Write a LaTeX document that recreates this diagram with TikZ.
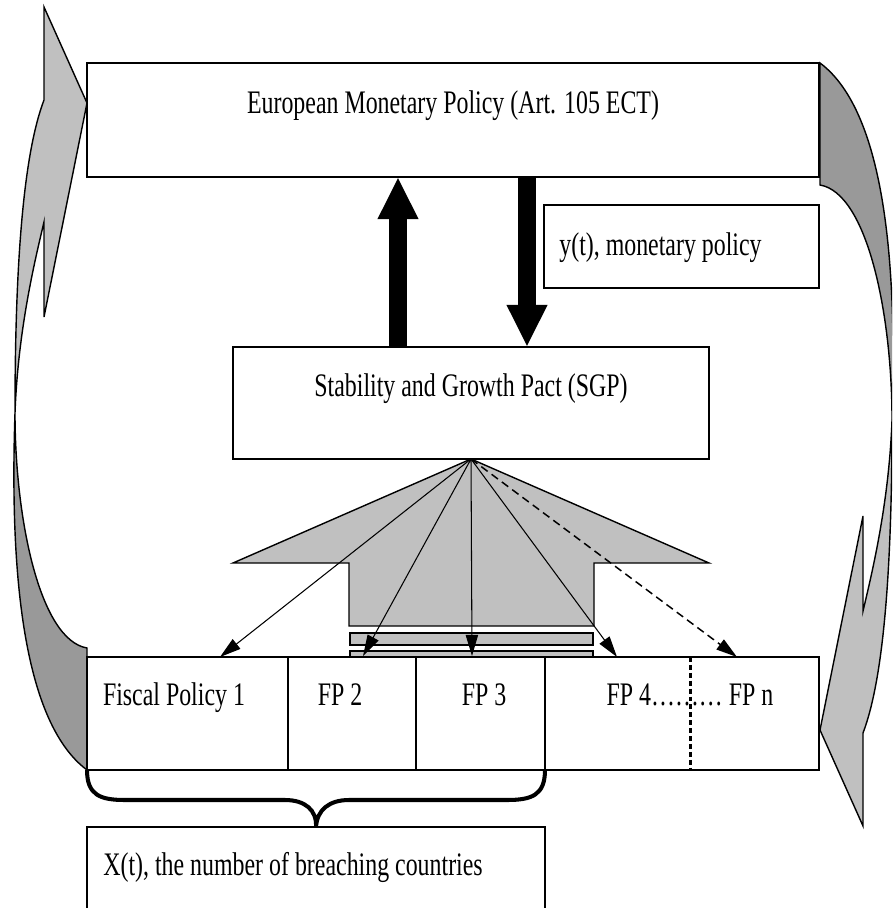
\documentclass[tikz,border=0pt]{standalone}
\usepackage{fontspec}
\newfontfamily\diagfont[FakeStretch=0.727]{Liberation Serif}
\usepackage{tikz}
\usetikzlibrary{arrows.meta,calc}
\definecolor{lightgrey}{HTML}{C0C0C0}
\definecolor{darkgrey}{HTML}{999999}
\newcommand{\twistarrow}{%
  \filldraw[fill=darkgrey,line width=0.8pt] (87,648) .. controls (40,640) and (15,520) .. (15,413)
    .. controls (10,560) and (20,720) .. (87,770) -- cycle;
  \filldraw[fill=lightgrey,line width=0.8pt,line join=miter] (15,413) .. controls (15,250) and (25,150) .. (44,100)
    -- (44,7) -- (87,103) -- (44,317) -- (44,222) .. controls (35,260) and (18,330) .. (15,413) -- cycle;
}

\begin{document}
\begin{tikzpicture}[x=0.02cm,y=-0.02cm,
    box/.style={draw,line width=0.8pt,fill=white,inner sep=0pt,outer sep=0pt},
    txt/.style={font=\diagfont\fontsize{18.7}{20}\selectfont,inner sep=0pt},
    fan/.style={-{Triangle[length=12pt,width=7pt]},line width=0.6pt},
    bigarrow/.style={line width=10.8pt,-{Triangle[length=24pt,width=21.5pt]}}]
    \clip (0,0) rectangle (892,908);

    % Curved feedback arrows
    \twistarrow
    \begin{scope}[rotate around={180:(453.5,416.5)}]
        \twistarrow
    \end{scope}

    % Boxes
    \node[box,minimum width=14.64cm,minimum height=2.28cm] (emp) at (453,120) {};
    \node[box,minimum width=5.5cm,minimum height=1.66cm] (ybox) at (681.5,246.5) {};
    \node[box,minimum width=9.52cm,minimum height=2.24cm] (sgp) at (471,403) {};
    \node[box,minimum width=4.02cm,minimum height=2.26cm] (fpone) at (187.5,713.5) {};
    \node[box,minimum width=2.56cm,minimum height=2.26cm] (fptwo) at (352,713.5) {};
    \node[box,minimum width=2.58cm,minimum height=2.26cm] (fpthree) at (480.5,713.5) {};
    \node[box,minimum width=5.48cm,minimum height=2.26cm] (fprest) at (682,713.5) {};
    \node[box,minimum width=9.16cm,minimum height=1.86cm] (xbox) at (316,873.5) {};

    % Labels
    \node[txt,anchor=base] (emptext) at (453,114) {European Monetary Policy (Art. 105 ECT)};
    \node[txt,anchor=base west] (ytext) at (559,256) {y(t), monetary policy};
    \node[txt,anchor=base] (sgptext) at (471,396) {Stability and Growth Pact (SGP)};
    \node[txt,anchor=base] (fponetext) at (174,705) {Fiscal Policy 1};
    \node[txt,anchor=base] (fptwotext) at (340,705) {FP 2};
    \node[txt,anchor=base] (fpthreetext) at (484,705) {FP 3};
    \node[txt,anchor=base] (fpresttext) at (690,705) {FP 4……… FP n};
    \node[txt,anchor=base west] (xtext) at (103,875) {X(t), the number of breaching countries};

    % Dotted split inside last cell
    \draw[line width=1.7pt,dash pattern=on 2.8pt off 1.7pt] (690,0 |- fprest.north) -- (690,0 |- fprest.south);

    % Thick arrows between ECB and SGP
    \coordinate (upx) at (398,0);
    \coordinate (downx) at (527,0);
    \draw[bigarrow] (upx |- sgp.north) -- (upx |- emp.south);
    \draw[bigarrow] (downx |- emp.south) -- (downx |- sgp.north);

    % Grey fan arrow and bars
    \filldraw[fill=lightgrey,line width=0.8pt] (sgp.south) -- (709,563) -- (594,563) -- (594,626)
        -- (349,626) -- (349,563) -- (233,563) -- cycle;
    \filldraw[fill=lightgrey,line width=0.8pt] (350,633) rectangle (593,645);
    \filldraw[fill=lightgrey,line width=0.8pt] (350,651) rectangle (593,657);

    % Fan of arrows to the fiscal policies
    \coordinate (t1) at (220,657);
    \coordinate (t2) at (363,656);
    \coordinate (t3) at (472,656);
    \coordinate (t4) at (617,657);
    \coordinate (t5) at (737,657);
    \draw[fan] (sgp.south) -- (t1);
    \draw[fan] (sgp.south) -- (t2);
    \draw[fan] (sgp.south) -- (t3);
    \draw[fan] (sgp.south) -- (t4);
    \draw[fan,line width=0.85pt,dash pattern=on 4.5pt off 2.8pt] (sgp.south) -- (t5);

    % Brace
    \draw[line width=2.3pt] (fpone.south west) .. controls (87,795) and (100,800) .. (125,800) -- (285,800)
        .. controls (305,800) and (317,810) .. (xbox.north) .. controls (317,810) and (329,800) .. (349,800)
        -- (507,800) .. controls (532,800) and (545,795) .. (fpthree.south east);
\end{tikzpicture}
\end{document}
